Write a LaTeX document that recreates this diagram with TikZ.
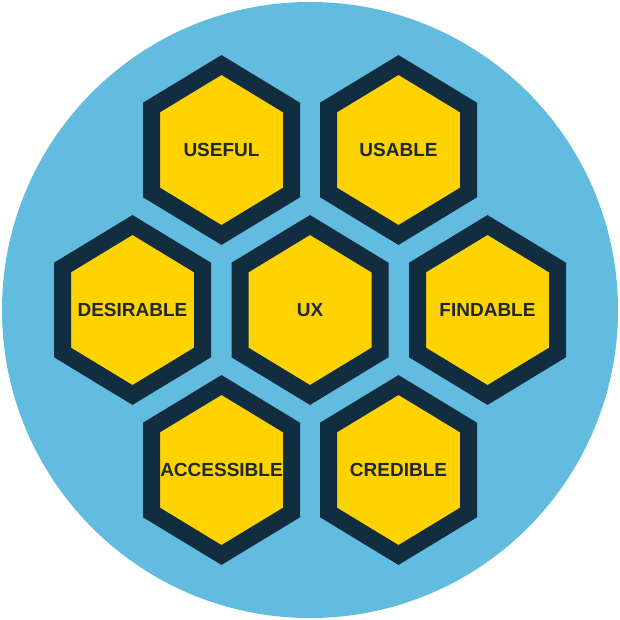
\documentclass[tikz,border=0pt]{standalone}
\usepackage{fontspec}
\setmainfont{Liberation Sans}
\usetikzlibrary{positioning}
\definecolor{Sky}{HTML}{62BCE0}
\definecolor{Navy}{HTML}{132D40}
\definecolor{Honey}{HTML}{FFD300}
\definecolor{Ink}{HTML}{1F2830}
\tikzset{
  cell/.style={fill=Honey,draw=Navy,line width=17pt,line join=miter},
  tag/.style={text=Ink,inner sep=0pt,font=\fontsize{19}{21}\selectfont\bfseries},
}

\begin{document}
\begin{tikzpicture}[x=1pt,y=-1pt]
        \fill[white] (0,0) rectangle (620,620);
        \fill[Sky] (310,310) circle (308);
        \foreach \n/\x/\y/\t in {useful/221.5/150/USEFUL,usable/398.5/150/USABLE,desirable/132.5/310/DESIRABLE,ux/310/310/UX,findable/487.5/310/FINDABLE,accessible/221.5/470/ACCESSIBLE,credible/398.5/470/CREDIBLE}
        {
          \filldraw[cell,shift={(\x,\y)}] (0,-85) -- (70,-42.5) -- (70,42.5) -- (0,85) -- (-70,42.5) -- (-70,-42.5) -- cycle;
          \node[tag] (\n) at (\x,\y) {\t};
        }
      \end{tikzpicture}
\end{document}
